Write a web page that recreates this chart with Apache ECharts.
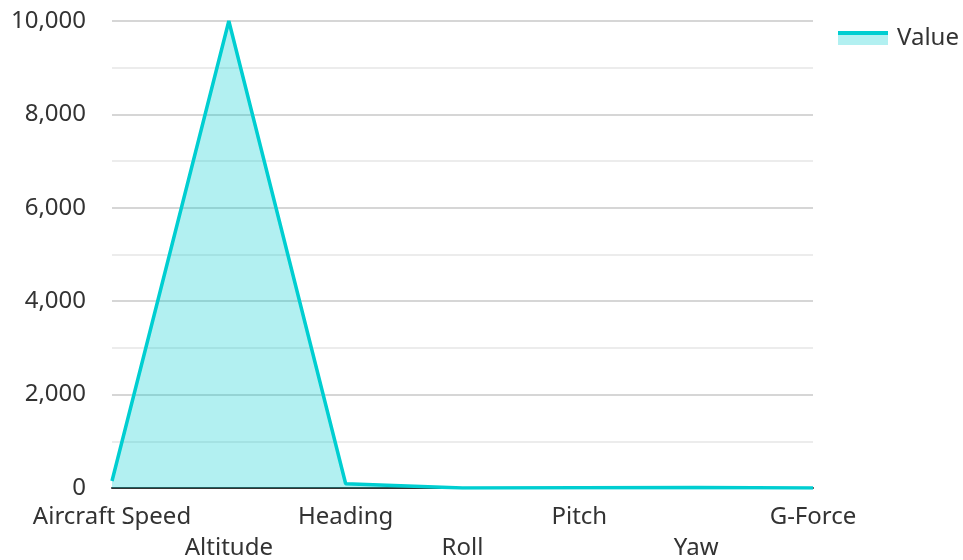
<!DOCTYPE html>
<html>
<head>
<meta charset="utf-8">
<script src="https://cdn.jsdelivr.net/npm/echarts@6/dist/echarts.min.js"></script>
<style>
  html, body { margin: 0; padding: 0; background: #fff; overflow: hidden; }
  #chart { width: 963px; height: 560px; }
</style>
</head>
<body>
<div id="chart"></div>
<script>
// Flight telemetry readings
const categories = ['Aircraft Speed', 'Altitude', 'Heading', 'Roll', 'Pitch', 'Yaw', 'G-Force'];
const values = [150, 10000, 90, 0, 5, 10, 1];
const seriesName = 'Value';
const yTicks = { min: 0, max: 10000, interval: 2000 };

const lineColor = '#00CED1';
const fillColor = 'rgba(0, 206, 209, 0.3)';
const textColor = '#333333';
const font = 'Noto Sans';

const chart = echarts.init(document.getElementById('chart'), null, { renderer: 'canvas' });

chart.setOption({
  animation: false,
  textStyle: { fontFamily: font },
  grid: { left: 112, right: 150, top: 21, bottom: 72, containLabel: false, outerBoundsMode: 'none' },
  legend: {
    data: [{ name: seriesName, icon: 'rect', itemStyle: { color: fillColor } }],
    left: 838,
    top: 26,
    padding: 0,
    itemWidth: 50,
    itemHeight: 14,
    textStyle: { fontSize: 24, lineHeight: 24, color: textColor, fontFamily: font, padding: [-14, 0, 0, 4] }
  },
  graphic: [
    // line stripe over the legend swatch
    { type: 'rect', left: 838, top: 31, shape: { width: 50, height: 4 }, style: { fill: lineColor }, silent: true }
  ],
  xAxis: {
    type: 'category',
    data: categories,
    boundaryGap: false,
    axisLine: { show: true, lineStyle: { color: '#333', width: 2 } },
    axisTick: { show: false },
    axisLabel: {
      interval: 0,
      margin: 14,
      fontSize: 24,
      color: textColor,
      lineHeight: 31,
      formatter: function (val, idx) { return idx % 2 === 1 ? '\n' + val : val; }
    },
    splitLine: { show: false }
  },
  yAxis: {
    type: 'value',
    min: yTicks.min,
    max: yTicks.max,
    interval: yTicks.interval,
    axisLine: { show: false },
    axisTick: { show: false },
    axisLabel: {
      margin: 26,
      fontSize: 24,
      color: textColor,
      formatter: function (v) { return v.toLocaleString('en-US'); }
    },
    splitLine: { show: true, lineStyle: { color: '#c8c8c8', width: 1.5 } },
    minorTick: { show: false, splitNumber: 2 },
    minorSplitLine: { show: true, lineStyle: { color: '#e6e6e6', width: 1.5 } }
  },
  series: [{
    name: seriesName,
    type: 'line',
    data: values,
    showSymbol: false,
    symbol: 'none',
    lineStyle: { color: lineColor, width: 3.5 },
    itemStyle: { color: lineColor },
    areaStyle: { color: fillColor, opacity: 1 }
  }]
});
</script>
</body>
</html>
